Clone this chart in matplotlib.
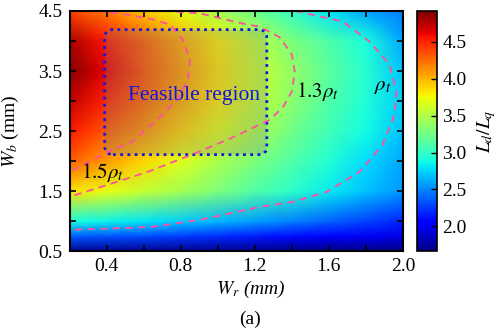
import matplotlib

matplotlib.use("Agg")
import matplotlib.pyplot as plt
import numpy as np
from matplotlib.colors import Normalize
from matplotlib.patches import FancyBboxPatch
from matplotlib.ticker import MultipleLocator

plt.rcParams["font.family"] = "serif"
plt.rcParams["font.serif"] = ["Liberation Serif", "Times New Roman", "DejaVu Serif"]
plt.rcParams["mathtext.fontset"] = "stix"

# grid
wr = [0.2, 0.4, 0.6, 0.8, 1.0, 1.2, 1.4, 1.6, 1.8, 2.0]
wb = [0.5, 0.75, 1.0, 1.5, 2.0, 2.5, 3.0, 3.5, 4.0, 4.5]
# Ld/Lq, one row per Wb value
ld_lq = [
    [1.70, 1.70, 1.70, 1.69, 1.69, 1.68, 1.68, 1.67, 1.67, 1.66],
    [2.35, 2.33, 2.30, 2.25, 2.20, 2.15, 2.10, 2.05, 2.00, 1.95],
    [2.90, 2.85, 2.80, 2.72, 2.65, 2.57, 2.48, 2.38, 2.28, 2.18],
    [3.85, 3.72, 3.58, 3.45, 3.30, 3.12, 2.98, 2.82, 2.68, 2.55],
    [4.30, 4.08, 3.88, 3.68, 3.48, 3.30, 3.12, 2.94, 2.77, 2.60],
    [4.55, 4.32, 4.12, 3.90, 3.70, 3.48, 3.25, 3.05, 2.88, 2.68],
    [4.72, 4.50, 4.28, 4.05, 3.82, 3.58, 3.35, 3.12, 2.93, 2.72],
    [4.90, 4.62, 4.35, 4.10, 3.85, 3.60, 3.38, 3.15, 2.95, 2.70],
    [4.80, 4.55, 4.30, 4.05, 3.80, 3.55, 3.30, 3.10, 2.90, 2.60],
    [4.40, 4.20, 3.95, 3.70, 3.45, 3.22, 3.00, 2.80, 2.60, 2.45],
]

# torque-density contours (Wr, Wb)
rho15_wr = [0.354, 0.51, 0.65, 0.742, 0.81, 0.85, 0.839, 0.78, 0.672, 0.537, 0.408, 0.2]
rho15_wb = [4.5, 4.44, 4.36, 4.275, 4.025, 3.69, 3.36, 3.025, 2.69, 2.325, 2.16, 1.825]
rho13_wr = [0.71, 0.904, 1.157, 1.227, 1.335, 1.40, 1.416, 1.40, 1.35, 1.28, 1.227, 1.076, 0.86, 0.623, 0.408, 0.2]
rho13_wb = [4.5, 4.46, 4.275, 4.24, 4.06, 3.775, 3.49, 3.16, 2.89, 2.69, 2.61, 2.39, 2.11, 1.825, 1.61, 1.41]
rho10_wr = [1.42, 1.674, 1.82, 1.927, 1.965, 1.955, 1.89, 1.766, 1.588, 1.405, 1.227, 0.904, 0.65, 0.51, 0.2]
rho10_wb = [4.5, 4.325, 3.99, 3.61, 3.16, 2.775, 2.275, 1.825, 1.49, 1.325, 1.24, 1.025, 0.91, 0.89, 0.86]

feasible_wr = (0.39, 1.265)
feasible_wb = (2.11, 4.19)

fig = plt.figure(figsize=(5.0, 3.33), dpi=100)
ax = fig.add_axes([0.139, 0.245, 0.667, 0.722])
cax = fig.add_axes([0.834, 0.245, 0.040, 0.722])

norm = Normalize(vmin=1.66, vmax=4.92)
mesh = ax.pcolormesh(wr, wb, np.array(ld_lq), cmap="jet", norm=norm, shading="gouraud")

dash = dict(color="#FF4FA0", lw=1.3, dashes=(4, 3))
ax.plot(rho15_wr, rho15_wb, **dash)
ax.plot(rho13_wr, rho13_wb, **dash)
ax.plot(rho10_wr, rho10_wb, **dash)

box = FancyBboxPatch(
    (feasible_wr[0], feasible_wb[0]),
    feasible_wr[1] - feasible_wr[0],
    feasible_wb[1] - feasible_wb[0],
    boxstyle="round,pad=0,rounding_size=0.045",
    mutation_aspect=3.09,
    facecolor=(0.5, 0.5, 0.5, 0.28),
    edgecolor="#1515E0",
    lw=2.0,
    linestyle=(0, (1, 1.6)),
)
ax.add_patch(box)

ax.text(0.87, 3.09, "Feasible region", color="#1515E0", fontsize=15.5, ha="center", va="center")
ax.text(1.54, 3.16, r"$1.3\rho_t$", fontsize=15, ha="center", va="center")
ax.text(1.89, 3.25, r"$\rho_t$", fontsize=15, ha="center", va="center")
ax.text(0.376, 1.81, r"$1.5\rho_t$", fontsize=15, ha="center", va="center")

ax.set_xlim(0.2, 2.0)
ax.set_ylim(0.5, 4.5)
ax.set_xticks([0.4, 0.8, 1.2, 1.6, 2.0])
ax.set_yticks([0.5, 1.5, 2.5, 3.5, 4.5])
ax.xaxis.set_minor_locator(MultipleLocator(0.2))
ax.yaxis.set_minor_locator(MultipleLocator(0.5))
ax.tick_params(which="both", direction="in", top=True, right=True, labelsize=14, length=4, width=1.2, pad=5)
for s in ax.spines.values():
    s.set_linewidth(1.5)

ax.set_xlabel(r"$W_r$ (mm)", fontsize=14, style="italic")
ax.xaxis.set_label_coords(0.544, -0.115)
ax.set_ylabel(r"$W_b$ (mm)", fontsize=14)
ax.yaxis.set_label_coords(-0.145, 0.5)

cb = fig.colorbar(mesh, cax=cax)
cb.set_ticks([2.0, 2.5, 3.0, 3.5, 4.0, 4.5])
cb.ax.tick_params(direction="in", labelsize=14, length=4, width=1.0, pad=4)
cb.outline.set_linewidth(1.2)
cb.set_label(r"$L_d/L_q$", fontsize=14, labelpad=6)

fig.text(0.5, 0.04, "(a)", fontsize=14, ha="center", va="center")

fig.savefig("out.png", dpi=100, facecolor="white")
